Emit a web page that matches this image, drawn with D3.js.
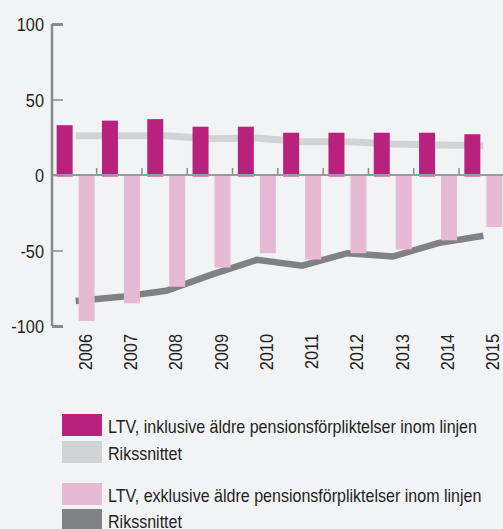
<!DOCTYPE html>
<html>
<head>
<meta charset="utf-8">
<script src="https://cdn.jsdelivr.net/npm/d3@7"></script>
<style>
  html, body { margin: 0; padding: 0; background: #f2f3f5; }
  svg text { font-family: "Liberation Sans", Arial, sans-serif; fill: #231f20; }
</style>
</head>
<body>
<div id="chart"></div>
<script>
const years = ["2006", "2007", "2008", "2009", "2010", "2011", "2012", "2013", "2014", "2015"];
const ltvInkl = [33, 36, 37, 32, 32, 28, 28, 28, 28, 27];
const riksInkl = [26, 26, 26, 24, 24.5, 22, 22, 20.5, 19.8, 19.3];
const ltvExkl = [-96.7, -85, -74, -61.3, -51.8, -56, -51.8, -49.3, -43.3, -34.5];
const riksExkl = [-83.5, -80.7, -76.7, -66, -56.2, -60, -51.8, -54, -45.1, -40.2];
const yTicks = [100, 50, 0, -50, -100];

const legendItems = [
  { label: "LTV, inklusive äldre pensionsförpliktelser inom linjen", color: "#b8227e" },
  { label: "Rikssnittet", color: "#d2d3d5" },
  { label: "LTV, exklusive äldre pensionsförpliktelser inom linjen", color: "#e6bad3" },
  { label: "Rikssnittet", color: "#808184" }
];

const w = 503;
const h = 529;
const fs = 19;
const narrow = 0.86; // the original font is a condensed one

const xScale = d3.scaleBand()
  .domain(years)
  .range([53, 53 + 45.3 * years.length]);

const yScale = d3.scaleLinear()
  .domain([-100, 100])
  .range([326, 24]);

const cx = d => xScale(d) + xScale.bandwidth() / 2;

const svg = d3.select("#chart")
  .append("svg")
  .attr("width", w)
  .attr("height", h);

// lines go behind the bars
const line = d3.line()
  .x((d, i) => cx(years[i]))
  .y(d => yScale(d));

svg.append("path")
  .datum(riksInkl)
  .attr("d", line)
  .attr("fill", "none")
  .attr("stroke", "#d2d3d5")
  .attr("stroke-width", 7);

svg.append("path")
  .datum(riksExkl)
  .attr("d", line)
  .attr("fill", "none")
  .attr("stroke", "#808184")
  .attr("stroke-width", 6.5);

// bars
svg.selectAll(".inkl")
  .data(ltvInkl)
  .enter()
  .append("rect")
  .attr("class", "inkl")
  .attr("x", (d, i) => cx(years[i]) - 19)
  .attr("width", 16)
  .attr("y", d => yScale(Math.max(0, d)))
  .attr("height", d => Math.abs(yScale(d) - yScale(0)) + 1.5)
  .attr("fill", "#b8227e");

svg.selectAll(".exkl")
  .data(ltvExkl)
  .enter()
  .append("rect")
  .attr("class", "exkl")
  .attr("x", (d, i) => cx(years[i]) + 3)
  .attr("width", 16)
  .attr("y", yScale(0))
  .attr("height", d => yScale(d) - yScale(0))
  .attr("fill", "#e6bad3");

// zero line + small separators
svg.append("line")
  .attr("x1", 52)
  .attr("x2", w)
  .attr("y1", yScale(0))
  .attr("y2", yScale(0))
  .attr("stroke", "#9a9a9b")
  .attr("stroke-width", 2);

svg.selectAll(".sep")
  .data(years.slice(0, -1))
  .enter()
  .append("line")
  .attr("class", "sep")
  .attr("x1", d => cx(d) + 21)
  .attr("x2", d => cx(d) + 21)
  .attr("y1", yScale(0) - 7)
  .attr("y2", yScale(0) - 1)
  .attr("stroke", "#8a8a8b")
  .attr("stroke-width", 1.5);

// y axis
const yAxis = d3.axisRight(yScale)
  .tickValues(yTicks)
  .tickSize(11)
  .tickFormat(d => d);

const gy = svg.append("g")
  .attr("transform", "translate(52,0)")
  .call(yAxis);

gy.select(".domain")
  .attr("stroke", "#8a8a8b")
  .attr("stroke-width", 2.5)
  .attr("d", "M0," + yScale(100) + "V" + yScale(-100));

gy.selectAll(".tick line")
  .attr("stroke", "#8a8a8b")
  .attr("stroke-width", d => Math.abs(d) == 100 ? 3 : 1.5);

gy.selectAll(".tick text")
  .attr("x", 0)
  .attr("transform", "translate(-8,0) scale(" + narrow + ",1)")
  .attr("text-anchor", "end")
  .attr("font-size", fs)
  .attr("fill", "#231f20")
  .attr("dy", "0.36em");

// x labels (rotated)
svg.selectAll(".xlab")
  .data(years)
  .enter()
  .append("text")
  .attr("class", "xlab")
  .attr("transform", d => "translate(" + (cx(d) + 16) + ",334) rotate(-90) scale(" + narrow + ",1)")
  .attr("text-anchor", "end")
  .attr("font-size", fs)
  .text(d => d);

// legend
const rowsY = [414, 441, 483, 509];
const legend = svg.append("g");

legend.selectAll("rect")
  .data(legendItems)
  .enter()
  .append("rect")
  .attr("x", 62)
  .attr("y", (d, i) => rowsY[i])
  .attr("width", 40)
  .attr("height", 22)
  .attr("fill", d => d.color);

const legendText = legend.selectAll("text")
  .data(legendItems)
  .enter()
  .append("text")
  .attr("font-size", fs)
  .text(d => d.label);

// squeeze legend text so the first label is as wide as in the original
const firstLen = legendText.node().getComputedTextLength();
const sx = 369 / firstLen;
legendText.attr("transform", (d, i) => "translate(108," + (rowsY[i] + 19) + ") scale(" + sx + ",1)");
</script>
</body>
</html>
